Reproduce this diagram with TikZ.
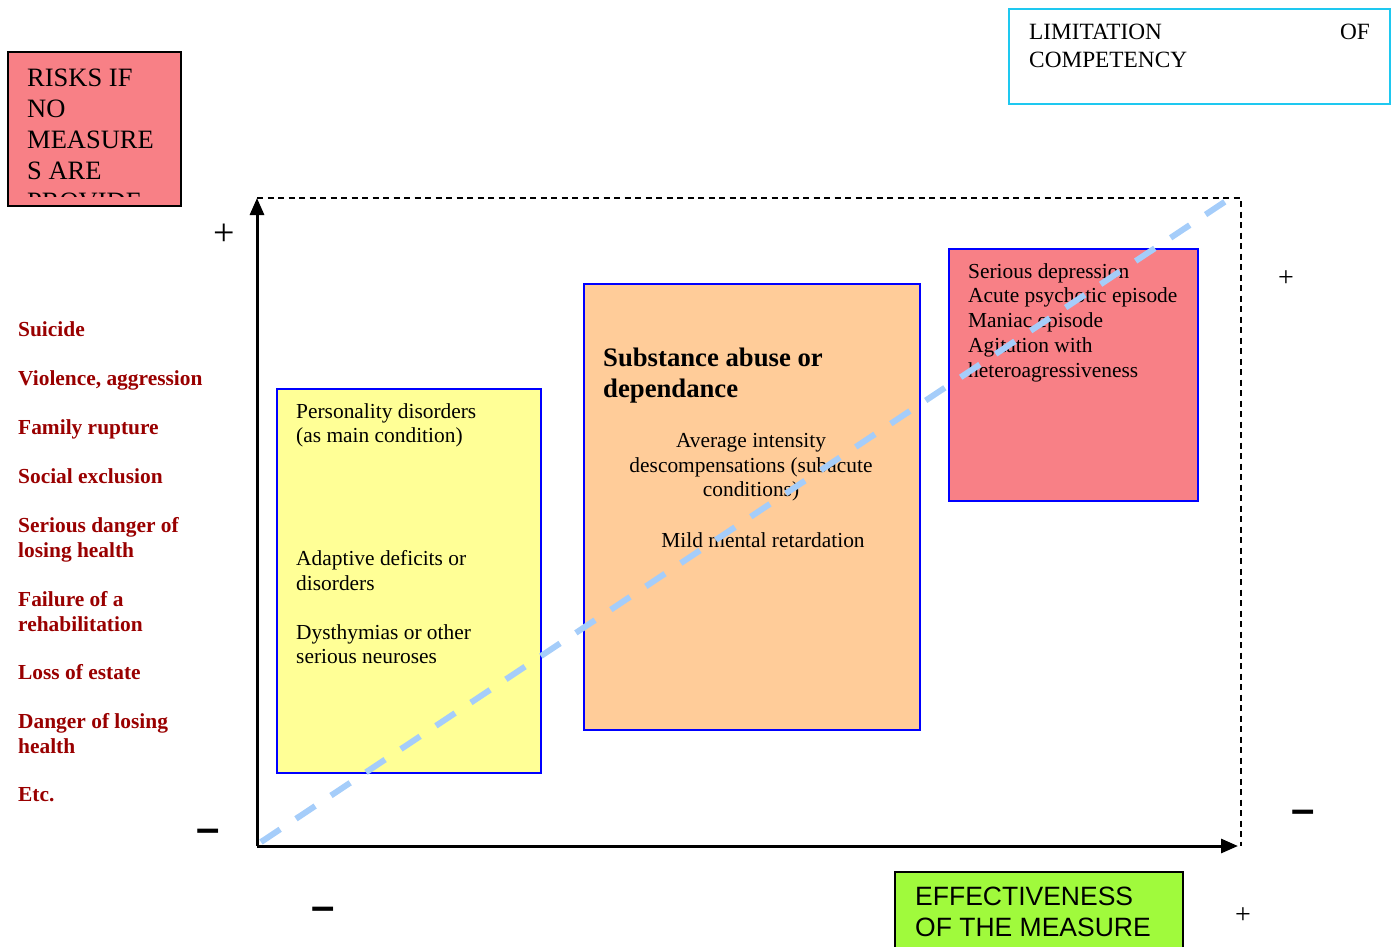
\documentclass[tikz,border=0pt]{standalone}
\usepackage{fontspec}
\setmainfont{Liberation Serif}
\newfontfamily\arialf{Liberation Sans}
\usetikzlibrary{arrows.meta}
\definecolor{pinkf}{RGB}{248,128,134}
\definecolor{yellowf}{RGB}{255,255,150}
\definecolor{orangef}{RGB}{255,204,153}
\definecolor{greenf}{RGB}{160,250,60}
\definecolor{cyanb}{RGB}{30,200,240}
\definecolor{blueb}{RGB}{0,0,255}
\definecolor{redt}{RGB}{153,0,0}
\definecolor{diag}{RGB}{165,205,250}
\tikzset{
  box/.style={draw, line width=1.5pt, inner sep=0pt, anchor=north west},
  bluebox/.style={box, draw=blueb},
  body/.style={inner sep=0pt, anchor=north west, align=left, font=\fontsize{21.4}{24.8}\selectfont},
  redlab/.style={body, text=redt, font=\fontsize{21.4}{24.8}\selectfont\bfseries},
  plus/.style={inner sep=0pt, font=\fontsize{28}{28}\selectfont},
  minus/.style={inner sep=0pt, font=\arialf\fontsize{42}{42}\selectfont\bfseries},
  axis/.style={line width=3pt, -{Triangle[length=17pt,width=14pt]}},
  frame/.style={line width=1.4pt, dash pattern=on 6pt off 4.5pt},
  diagline/.style={draw=diag, line width=6pt, dash pattern=on 23pt off 19pt}
}
\begin{document}
\begin{tikzpicture}[x=1pt,y=-1pt]
\useasboundingbox (0,0) rectangle (1398,946);

% top-left box
\node[box, draw=black, fill=pinkf, minimum width=173pt, minimum height=154pt] (risk) at (7,51) {};
\begin{scope}
\clip (8,52) rectangle (179,196);
\node[body, font=\fontsize{26.5}{31}\selectfont] (risktxt) at (27,69) {RISKS IF\\NO\\MEASURE\\S ARE\\PROVIDE};
\end{scope}

% limitation box
\node[box, draw=cyanb, minimum width=381pt, minimum height=95pt] (limit) at (1008,8) {};
\node[body, font=\fontsize{23.3}{28}\selectfont] (limtxt) at (1029,24) {LIMITATION\\COMPETENCY};
\node[inner sep=0pt, anchor=north east, font=\fontsize{23.3}{28}\selectfont] (limof) at (1370,24) {OF};

% frame and axes
\coordinate (O) at (257,846);
\coordinate (ytop) at (257,198);
\coordinate (xend) at (1238,846);
\coordinate (corner) at (1241,198);
\coordinate (cornerb) at (1241,846);
\draw[frame] (ytop) -- (corner) -- (cornerb);
\draw[axis] (O) -- (ytop);
\draw[axis] (O) -- (xend);

% boxes
\node[bluebox, fill=yellowf, minimum width=264pt, minimum height=384pt] (yellow) at (276,388) {};
\node[bluebox, fill=orangef, minimum width=336pt, minimum height=446pt] (orange) at (583,283) {};
\node[bluebox, fill=pinkf, minimum width=249pt, minimum height=252pt] (pink) at (948,248) {};

% yellow texts
\node[body] (y1) at (296,403) {Personality disorders\\(as main condition)};
\node[body] (y2) at (296,550) {Adaptive deficits or\\disorders};
\node[body] (y3) at (296,624) {Dysthymias or other\\serious neuroses};

% orange texts
\node[body, font=\fontsize{26.7}{31}\selectfont\bfseries] (o1) at (603,348) {Substance abuse or\\dependance};
\node[body, anchor=north, align=center] (o2) at (751,433) {Average intensity\\descompensations (subacute\\conditions)};
\node[body, anchor=north, align=center] (o3) at (763,532) {Mild mental retardation};

% pink texts
\node[body] (p1) at (968,263) {Serious depression\\Acute psychotic episode\\Maniac episode\\Agitation with\\heteroagressiveness};

% left red labels
\node[redlab] (r1) at (18,321) {Suicide};
\node[redlab] (r2) at (18,370) {Violence, aggression};
\node[redlab] (r3) at (18,419) {Family rupture};
\node[redlab] (r4) at (18,468) {Social exclusion};
\node[redlab] (r5) at (18,517) {Serious danger of\\losing health};
\node[redlab] (r6) at (18,591) {Failure of a\\rehabilitation};
\node[redlab] (r7) at (18,664) {Loss of estate};
\node[redlab] (r8) at (18,713) {Danger of losing\\health};
\node[redlab] (r9) at (18,787) {Etc.};

% signs
\node[plus, font=\fontsize{38}{38}\selectfont] (pl1) at (224,235) {+};
\node[minus] (mi1) at (208,836) {–};
\node[plus] (pl2) at (1286,279) {+};
\node[minus] (mi2) at (1303,817) {–};
\node[minus] (mi3) at (323,914) {–};
\node[plus] (pl3) at (1243,916) {+};

% effectiveness box
\node[box, draw=black, fill=greenf, minimum width=288pt, minimum height=85pt] (eff) at (894,871) {};
\node[body, font=\arialf\fontsize{26.5}{31}\selectfont] (efftxt) at (915,887) {EFFECTIVENESS\\OF THE MEASURE};

% diagonal
\coordinate (dstart) at (261,842);
\coordinate (dend) at (1235,195);
\draw[diagline] (dstart) -- (dend);
\end{tikzpicture}
\end{document}
